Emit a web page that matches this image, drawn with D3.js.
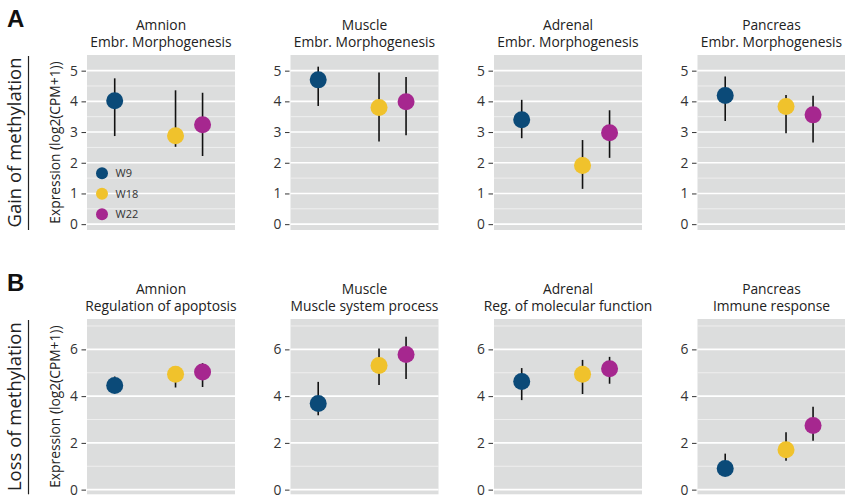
<!DOCTYPE html>
<html>
<head>
<meta charset="utf-8">
<script src="https://cdn.jsdelivr.net/npm/d3@7"></script>
<style>
  body { margin: 0; background: #fff; }
  svg { display: block; font-family: "Open Sans", sans-serif; }
</style>
</head>
<body>
<div id="chart"></div>
<script>
// Data
var tissues = ['Amnion', 'Muscle', 'Adrenal', 'Pancreas'],
    gainTerms = ['Embr. Morphogenesis', 'Embr. Morphogenesis', 'Embr. Morphogenesis', 'Embr. Morphogenesis'],
    lossTerms = ['Regulation of apoptosis', 'Muscle system process', 'Reg. of molecular function', 'Immune response'],
    weeks = [9, 18, 22],
    weekLabels = ['W9', 'W18', 'W22'],
    weekColors = ['#0b4a78', '#f0c22c', '#a6278f'];

// one row per tissue, one value per week
var gainMean = [[4.02, 2.88, 3.24], [4.70, 3.80, 3.99], [3.40, 1.91, 2.98], [4.19, 3.83, 3.56]],
    gainLow  = [[2.87, 2.52, 2.22], [3.85, 2.69, 2.90], [2.80, 1.15, 2.16], [3.36, 2.96, 2.66]],
    gainHigh = [[4.75, 4.36, 4.28], [5.13, 4.94, 4.79], [4.05, 2.74, 3.71], [4.81, 4.21, 4.18]];

var lossMean = [[4.45, 4.94, 5.03], [3.68, 5.31, 5.78], [4.63, 4.94, 5.17], [0.90, 1.71, 2.74]],
    lossLow  = [[4.15, 4.37, 4.39], [3.18, 4.48, 4.73], [3.83, 4.09, 4.53], [0.70, 1.24, 2.09]],
    lossHigh = [[4.84, 5.27, 5.41], [4.61, 6.04, 6.54], [5.20, 5.55, 5.68], [1.54, 2.46, 3.55]];

var gainTicks = [0, 1, 2, 3, 4, 5],
    gainMinor = [0.5, 1.5, 2.5, 3.5, 4.5],
    lossTicks = [0, 2, 4, 6],
    lossMinor = [1, 3, 5, 7];

var width = 845,
    height = 498,
    panelLeft = 87,
    panelStep = 203.5,
    panelWidth = 148,
    textSize = 13.8;

var rows = [
    { letter: 'A', label: 'Gain of methylation', terms: gainTerms, mean: gainMean, low: gainLow, high: gainHigh,
      top: 55, bottom: 230, domain: [-0.19, 5.51], ticks: gainTicks, minor: gainMinor, legend: true },
    { letter: 'B', label: 'Loss of methylation', terms: lossTerms, mean: lossMean, low: lossLow, high: lossHigh,
      top: 319, bottom: 494.3, domain: [-0.2, 7.3], ticks: lossTicks, minor: lossMinor, legend: false }
];

var svg = d3.select('#chart').append('svg')
    .attr('width', width)
    .attr('height', height);

var x = d3.scaleLinear().domain([4.9, 26.8]).range([0, panelWidth]);

rows.forEach(function(row) {
    var y = d3.scaleLinear().domain(row.domain).range([row.bottom, row.top]),
        midY = (row.top + row.bottom) / 2;

    // Panel letter
    svg.append('text')
        .attr('x', 7)
        .attr('y', row.top - 28)
        .attr('font-family', 'Liberation Sans, Arial, sans-serif')
        .attr('font-weight', 'bold')
        .attr('font-size', 24)
        .attr('fill', '#111')
        .text(row.letter);

    // Row label and its bar
    svg.append('text')
        .attr('transform', 'translate(21,' + midY + ') rotate(-90)')
        .attr('text-anchor', 'middle')
        .attr('font-size', 18.5)
        .attr('fill', '#222')
        .text(row.label);

    svg.append('line')
        .attr('x1', 28.5).attr('x2', 28.5)
        .attr('y1', row.top + 1).attr('y2', row.bottom)
        .attr('stroke', '#222')
        .attr('stroke-width', 1.2);

    // Y axis title
    svg.append('text')
        .attr('transform', 'translate(60,' + midY + ') rotate(-90)')
        .attr('text-anchor', 'middle')
        .attr('font-size', textSize)
        .attr('fill', '#222')
        .text('Expression (log2(CPM+1))');

    tissues.forEach(function(tissue, i) {
        var left = panelLeft + i * panelStep,
            g = svg.append('g').attr('transform', 'translate(' + left + ',0)');

        // background
        g.append('rect')
            .attr('x', 0)
            .attr('y', row.top)
            .attr('width', panelWidth)
            .attr('height', row.bottom - row.top)
            .attr('fill', '#dcdddd');

        // minor gridlines
        g.selectAll('line.minor').data(row.minor.filter(function(v) { return y(v) > row.top + 1; })).enter()
            .append('line')
            .attr('class', 'minor')
            .attr('x1', 0).attr('x2', panelWidth)
            .attr('y1', function(d) { return y(d); })
            .attr('y2', function(d) { return y(d); })
            .attr('stroke', '#f4f4f4')
            .attr('stroke-width', 0.8);

        // major gridlines
        g.selectAll('line.major').data(row.ticks).enter()
            .append('line')
            .attr('class', 'major')
            .attr('x1', 0).attr('x2', panelWidth)
            .attr('y1', function(d) { return y(d); })
            .attr('y2', function(d) { return y(d); })
            .attr('stroke', '#fff')
            .attr('stroke-width', 1.6);

        // y axis
        var axis = g.append('g')
            .attr('transform', 'translate(-1,0)')
            .call(d3.axisLeft(y).tickValues(row.ticks).tickFormat(d3.format('d')).tickSize(4.5).tickPadding(3.5));
        axis.select('.domain').remove();
        axis.selectAll('.tick line').attr('stroke', '#333');
        axis.selectAll('.tick text')
            .attr('font-family', '"Open Sans", sans-serif')
            .attr('font-size', textSize)
            .attr('fill', '#333');

        // panel title
        g.append('text')
            .attr('x', panelWidth / 2)
            .attr('y', row.top - 25.5)
            .attr('text-anchor', 'middle')
            .attr('font-size', textSize)
            .attr('fill', '#222')
            .text(tissue);
        g.append('text')
            .attr('x', panelWidth / 2)
            .attr('y', row.top - 8)
            .attr('text-anchor', 'middle')
            .attr('font-size', textSize)
            .attr('fill', '#222')
            .text(row.terms[i]);

        // error bars
        g.selectAll('line.err').data(weeks).enter()
            .append('line')
            .attr('class', 'err')
            .attr('x1', function(d) { return x(d); })
            .attr('x2', function(d) { return x(d); })
            .attr('y1', function(d, j) { return y(row.low[i][j]); })
            .attr('y2', function(d, j) { return y(row.high[i][j]); })
            .attr('stroke', '#111')
            .attr('stroke-width', 1.6);

        // points
        g.selectAll('circle.pt').data(weeks).enter()
            .append('circle')
            .attr('class', 'pt')
            .attr('cx', function(d) { return x(d); })
            .attr('cy', function(d, j) { return y(row.mean[i][j]); })
            .attr('r', 8.5)
            .attr('fill', function(d, j) { return weekColors[j]; });

        // legend inside first panel
        if (row.legend && i === 0) {
            var leg = g.selectAll('g.leg').data(weekLabels).enter()
                .append('g')
                .attr('class', 'leg')
                .attr('transform', function(d, j) { return 'translate(15,' + (173.3 + j * 20.5) + ')'; });
            leg.append('circle')
                .attr('r', 6)
                .attr('fill', function(d, j) { return weekColors[j]; });
            leg.append('text')
                .attr('x', 13.5)
                .attr('dy', '0.35em')
                .attr('font-size', 11)
                .attr('fill', '#333')
                .text(function(d) { return d; });
        }
    });
});
</script>
</body>
</html>
